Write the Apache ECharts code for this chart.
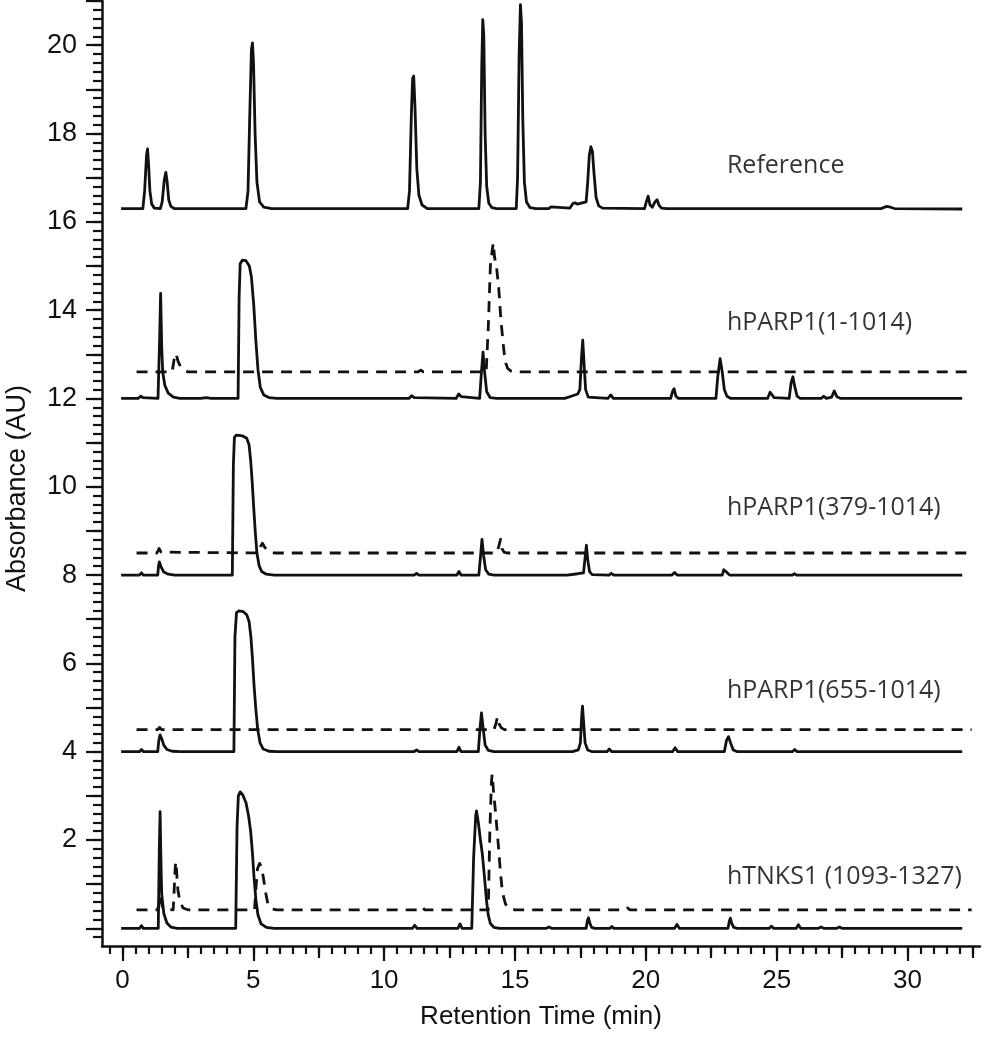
<!DOCTYPE html>
<html>
<head>
<meta charset="utf-8">
<script src="https://cdn.jsdelivr.net/npm/echarts@6/dist/echarts.min.js"></script>
<style>
html,body{margin:0;padding:0;background:#fff;}
#chart{width:999px;height:1050px;}
</style>
</head>
<body>
<div id="chart"></div>
<script>
// ---- tick labels ----
const xTickLabels = [0, 5, 10, 15, 20, 25, 30];
const yTickLabels = [2, 4, 6, 8, 10, 12, 14, 16, 18, 20];

// ---- trace names ----
const traceNames = ['Reference', 'hPARP1(1-1014)', 'hPARP1(379-1014)', 'hPARP1(655-1014)', 'hTNKS1 (1093-1327)'];

// ---- series values: [retention time (min), absorbance (AU, stacked offset)] ----
const reference = [[-0.05,16.3],[0.78,16.3],[0.85,16.7],[0.92,17.5],[0.96,17.65],[1.0,17.3],[1.05,16.7],[1.12,16.4],[1.22,16.31],[1.45,16.3],[1.52,16.45],[1.6,16.95],[1.66,17.12],[1.71,16.9],[1.77,16.5],[1.85,16.35],[1.98,16.3],
[4.72,16.3],[4.8,16.7],[4.87,18.5],[4.93,19.9],[4.97,20.05],[5.01,19.6],[5.07,18.0],[5.14,16.9],[5.24,16.45],[5.4,16.33],[5.7,16.3],
[10.9,16.3],[10.97,16.7],[11.04,18.4],[11.09,19.25],[11.13,19.3],[11.18,18.6],[11.25,17.2],[11.33,16.6],[11.45,16.38],[11.65,16.3],
[13.62,16.3],[13.68,16.9],[13.73,19.5],[13.77,20.58],[13.81,20.2],[13.86,18.0],[13.92,16.8],[14.0,16.42],[14.12,16.32],[14.3,16.3],
[15.05,16.3],[15.1,17.0],[15.16,19.8],[15.21,20.92],[15.25,20.5],[15.3,18.3],[15.36,16.9],[15.44,16.45],[15.58,16.32],[15.8,16.3],
[16.3,16.3],[16.38,16.34],[16.45,16.3],[17.1,16.31],[17.22,16.42],[17.3,16.43],[17.38,16.4],[17.72,16.45],[17.78,16.9],[17.84,17.5],[17.9,17.7],[17.96,17.6],[18.02,17.1],[18.1,16.55],[18.2,16.36],[18.35,16.31],
[19.95,16.3],[20.02,16.45],[20.09,16.58],[20.16,16.38],[20.25,16.33],[20.35,16.45],[20.43,16.5],[20.5,16.38],[20.6,16.31],[20.8,16.3],
[29.0,16.3],[29.2,16.35],[29.35,16.33],[29.5,16.3],[32.09,16.29]];

const parp1Full = [[-0.05,12.0],[0.6,12.0],[0.7,12.05],[0.78,12.02],[1.36,12.0],[1.42,13.3],[1.46,14.38],[1.5,13.2],[1.54,12.6],[1.62,12.3],[1.75,12.12],[1.95,12.03],[2.2,12.0],[3.0,12.0],[3.2,12.02],[3.4,12.0],
[4.42,12.0],[4.46,14.3],[4.5,15.05],[4.58,15.13],[4.72,15.12],[4.85,15.0],[4.93,14.75],[5.02,14.1],[5.1,13.3],[5.18,12.65],[5.27,12.25],[5.4,12.08],[5.6,12.02],[5.9,12.0],
[10.95,12.0],[11.05,12.06],[11.15,12.02],[12.75,12.0],[12.85,12.1],[12.95,12.04],[13.65,12.0],[13.72,12.6],[13.78,13.05],[13.84,12.6],[13.92,12.15],[14.05,12.02],[14.3,12.0],
[16.9,12.0],[17.15,12.05],[17.4,12.1],[17.48,12.2],[17.54,12.9],[17.59,13.32],[17.64,12.8],[17.7,12.2],[17.8,12.03],[18.55,12.0],[18.66,12.08],[18.76,12.0],
[20.95,12.0],[21.03,12.17],[21.08,12.22],[21.15,12.05],[21.25,12.0],[22.68,12.0],[22.75,12.5],[22.84,12.9],[22.92,12.6],[23.0,12.2],[23.1,12.05],[23.25,12.0],
[24.65,12.0],[24.75,12.14],[24.82,12.16],[24.9,12.02],[25.48,12.0],[25.55,12.35],[25.62,12.49],[25.68,12.3],[25.78,12.05],[25.9,12.0],
[26.7,12.0],[26.8,12.05],[26.9,12.0],[27.1,12.03],[27.2,12.17],[27.3,12.04],[27.45,12.0],[32.09,12.0]];

const parp1FullDashed = [[0.54,12.6],[1.9,12.6],[1.98,12.9],[2.05,13.02],[2.12,12.85],[2.22,12.72],[2.35,12.65],[2.5,12.6],[11.3,12.6],[11.4,12.64],[11.5,12.6],
[13.9,12.6],[13.98,13.6],[14.06,15.0],[14.12,15.3],[14.17,15.52],[14.22,15.2],[14.3,14.95],[14.38,14.5],[14.46,13.8],[14.54,13.3],[14.62,12.85],[14.72,12.68],[14.85,12.62],[15.1,12.6],
[19.2,12.6],[19.3,12.64],[19.4,12.6],[32.45,12.6]];

const parp1_379 = [[-0.05,8.0],[0.65,8.0],[0.73,8.05],[0.8,8.0],[1.35,8.0],[1.38,8.2],[1.41,8.3],[1.48,8.18],[1.58,8.07],[1.75,8.02],[2.0,8.0],
[4.2,8.0],[4.24,10.5],[4.28,11.12],[4.35,11.17],[4.6,11.15],[4.75,11.1],[4.84,10.95],[4.9,10.6],[4.96,10.1],[5.02,9.5],[5.08,8.95],[5.14,8.5],[5.22,8.22],[5.32,8.08],[5.5,8.02],[5.8,8.0],
[11.15,8.0],[11.24,8.04],[11.33,8.0],[12.78,8.0],[12.86,8.08],[12.94,8.0],[13.62,8.0],[13.68,8.4],[13.74,8.81],[13.8,8.45],[13.88,8.12],[14.0,8.02],[14.2,8.0],
[17.0,8.0],[17.4,8.03],[17.62,8.05],[17.68,8.4],[17.73,8.68],[17.78,8.35],[17.85,8.08],[17.95,8.01],[18.6,8.0],[18.68,8.04],[18.78,8.0],
[21.0,8.0],[21.1,8.06],[21.2,8.0],[22.92,8.0],[22.98,8.12],[23.03,8.16],[23.1,8.06],[23.2,8.0],[25.6,8.0],[25.68,8.03],[25.76,8.0],[32.09,8.0]];

const parp1_379Dashed = [[0.54,8.5],[1.32,8.5],[1.4,8.6],[1.48,8.52],[5.2,8.5],[5.28,8.65],[5.35,8.72],[5.45,8.62],[5.6,8.53],[5.8,8.5],[6.65,8.5],[6.72,8.53],[6.8,8.5],
[14.3,8.5],[14.38,8.65],[14.45,8.81],[14.5,8.6],[14.58,8.52],[14.7,8.5],[32.45,8.5]];

const parp1_655 = [[-0.05,4.0],[0.65,4.0],[0.73,4.05],[0.8,4.0],[1.35,4.0],[1.39,4.25],[1.44,4.38],[1.5,4.3],[1.58,4.15],[1.7,4.05],[1.9,4.01],[2.2,4.0],
[4.26,4.0],[4.3,6.6],[4.36,7.15],[4.45,7.19],[4.62,7.17],[4.75,7.1],[4.84,6.95],[4.91,6.6],[4.97,6.1],[5.03,5.5],[5.1,4.95],[5.17,4.5],[5.26,4.2],[5.38,4.06],[5.6,4.01],[5.9,4.0],
[11.15,4.0],[11.24,4.04],[11.33,4.0],[12.78,4.0],[12.86,4.1],[12.94,4.0],[13.6,4.0],[13.66,4.5],[13.72,4.88],[13.78,4.55],[13.86,4.15],[13.98,4.03],[14.2,4.0],
[17.2,4.0],[17.42,4.04],[17.5,4.2],[17.55,4.8],[17.58,5.03],[17.62,4.7],[17.68,4.2],[17.78,4.04],[17.95,4.0],[18.52,4.0],[18.6,4.06],[18.7,4.0],
[21.02,4.0],[21.12,4.09],[21.22,4.0],[23.0,4.0],[23.08,4.25],[23.16,4.34],[23.24,4.2],[23.34,4.04],[23.5,4.0],[24.78,4.0],[24.85,4.03],[24.92,4.0],[25.6,4.0],[25.69,4.05],[25.78,4.0],[32.09,4.0]];

const parp1_655Dashed = [[0.54,4.5],[1.35,4.5],[1.42,4.55],[1.5,4.5],[6.7,4.5],[6.78,4.53],[6.86,4.5],
[14.2,4.5],[14.28,4.65],[14.33,4.79],[14.4,4.62],[14.48,4.54],[14.6,4.5],[32.45,4.5]];

const tnks1 = [[-0.05,0.0],[0.65,0.0],[0.73,0.06],[0.8,0.0],[1.37,0.0],[1.41,1.8],[1.44,2.64],[1.47,1.6],[1.5,0.79],[1.58,0.34],[1.7,0.12],[1.85,0.03],[2.1,0.0],
[4.33,0.0],[4.38,2.3],[4.43,3.0],[4.5,3.09],[4.6,3.02],[4.72,2.85],[4.82,2.55],[4.9,2.2],[4.97,1.7],[5.03,1.15],[5.1,0.65],[5.18,0.3],[5.3,0.1],[5.5,0.02],[5.8,0.0],
[11.08,0.0],[11.17,0.07],[11.26,0.0],[12.82,0.0],[12.9,0.1],[12.98,0.0],[13.35,0.0],[13.42,1.6],[13.5,2.55],[13.53,2.66],[13.6,2.4],[13.68,2.0],[13.75,1.7],[13.83,1.2],[13.91,0.64],[13.98,0.3],[14.06,0.11],[14.2,0.02],[14.4,0.0],
[16.2,0.0],[16.3,0.03],[16.4,0.0],[17.72,0.0],[17.77,0.18],[17.81,0.24],[17.86,0.12],[17.93,0.02],[18.05,0.0],[18.62,0.0],[18.7,0.04],[18.78,0.0],
[21.1,0.0],[21.19,0.09],[21.28,0.0],[23.14,0.0],[23.2,0.18],[23.23,0.23],[23.28,0.12],[23.36,0.02],[23.5,0.0],[24.72,0.0],[24.8,0.05],[24.88,0.0],[25.75,0.0],[25.83,0.08],[25.92,0.0],
[26.6,0.0],[26.7,0.03],[26.8,0.0],[27.3,0.0],[27.4,0.03],[27.5,0.0],[32.09,0.0]];

const tnks1Dashed = [[0.54,0.42],[1.35,0.42],[1.4,0.6],[1.44,0.75],[1.52,0.5],[1.6,0.43],[1.94,0.42],[1.98,0.9],[2.02,1.4],[2.05,1.51],[2.08,1.2],[2.12,0.87],[2.2,0.6],[2.32,0.46],[2.5,0.42],
[5.05,0.42],[5.1,0.9],[5.16,1.35],[5.24,1.47],[5.32,1.38],[5.4,1.1],[5.48,0.79],[5.56,0.55],[5.7,0.44],[5.9,0.42],[11.35,0.42],[11.45,0.48],[11.55,0.42],
[13.98,0.42],[14.04,2.2],[14.1,3.3],[14.13,3.49],[14.18,3.1],[14.25,2.68],[14.32,2.2],[14.38,1.77],[14.44,1.3],[14.5,0.94],[14.57,0.7],[14.64,0.55],[14.78,0.45],[15.0,0.42],
[19.2,0.42],[19.3,0.46],[19.4,0.42],[32.45,0.42]];

// ---- axis ranges ----
const X_MIN = -0.78, X_MAX = 32.77;
const Y_MIN = -0.4, Y_MAX = 21.0;

function range(a, b, step) { const out = []; for (let v = a; v <= b + 1e-9; v += step) out.push(+v.toFixed(3)); return out; }
const xMajorTicks = xTickLabels.slice();
const xMidTicks = range(2.5, 32.5, 5);
const xMinorTicks = range(-0.5, 32.5, 0.5);
const yMajorTicks = range(0, 21, 1);
const yMinorTicks = range(-0.2, 21, 0.2);

const black = '#111';
const fontAxis = 'Liberation Sans, Arial, sans-serif';

function xAxisBase(ticks, len, withLabels, showLine) {
  return {
    type: 'value', min: X_MIN, max: X_MAX, position: 'bottom',
    axisLine: { show: showLine, onZero: false, lineStyle: { color: black, width: 2.5 } },
    axisTick: { show: true, inside: false, length: len, customValues: ticks, lineStyle: { color: black, width: 2.2 } },
    axisLabel: withLabels ? { show: true, customValues: xTickLabels, color: black, fontSize: 26, fontFamily: fontAxis, margin: 22 } : { show: false },
    splitLine: { show: false }
  };
}
function yAxisBase(ticks, len, withLabels, showLine) {
  return {
    type: 'value', min: Y_MIN, max: Y_MAX, position: 'left',
    axisLine: { show: showLine, onZero: false, lineStyle: { color: black, width: 2.5 } },
    axisTick: { show: true, inside: false, length: len, customValues: ticks, lineStyle: { color: black, width: 2.2 } },
    axisLabel: withLabels ? { show: true, customValues: yTickLabels, color: black, fontSize: 27, fontFamily: fontAxis, margin: 25 } : { show: false },
    splitLine: { show: false }
  };
}

const xAxes = [xAxisBase(xMajorTicks, 15, true, true), xAxisBase(xMidTicks, 12, false, false), xAxisBase(xMinorTicks, 8, false, false)];
xAxes[0].name = 'Retention Time (min)';
xAxes[0].nameLocation = 'middle';
xAxes[0].nameGap = 58;
xAxes[0].nameTextStyle = { color: black, fontSize: 26, fontFamily: fontAxis };

const yAxes = [yAxisBase(yMajorTicks, 16, true, true), yAxisBase(yMinorTicks, 9, false, false)];
yAxes[0].name = 'Absorbance (AU)';
yAxes[0].nameLocation = 'middle';
yAxes[0].nameGap = 71;
yAxes[0].nameRotate = 90;
yAxes[0].nameTextStyle = { color: black, fontSize: 27, fontFamily: fontAxis, padding: [0, 30, 0, 0] };

function trace(name, data, dashed) {
  return {
    name: name, type: 'line', data: data, xAxisIndex: 0, yAxisIndex: 0,
    showSymbol: false, symbol: 'none', smooth: false, animation: false,
    lineStyle: { color: black, width: 2.8, type: dashed ? [11, 8] : 'solid', cap: 'butt', join: 'round' },
    z: dashed ? 3 : 2
  };
}

const labelAnchorX = 23.1;
const labelAnchorsY = [17.27, 13.70, 9.52, 5.38, 1.17];

const option = {
  backgroundColor: '#fff',
  animation: false,
  grid: { left: 102, right: 19, top: 1, bottom: 104, containLabel: false, outerBoundsMode: 'none' },
  xAxis: xAxes,
  yAxis: yAxes,
  series: [
    trace(traceNames[0], reference, false),
    trace(traceNames[1], parp1Full, false),
    trace(traceNames[1] + ' (dashed)', parp1FullDashed, true),
    trace(traceNames[2], parp1_379, false),
    trace(traceNames[2] + ' (dashed)', parp1_379Dashed, true),
    trace(traceNames[3], parp1_655, false),
    trace(traceNames[3] + ' (dashed)', parp1_655Dashed, true),
    trace(traceNames[4], tnks1, false),
    trace(traceNames[4] + ' (dashed)', tnks1Dashed, true),
    {
      type: 'scatter', symbolSize: 0, silent: true, animation: false,
      data: traceNames.map((n, i) => ({ name: n, value: [labelAnchorX, labelAnchorsY[i]] })),
      label: { show: true, position: 'right', distance: 0, formatter: p => p.name,
        color: '#000', fontSize: 25, fontFamily: 'Open Sans, Noto Sans, sans-serif' }
    }
  ]
};

const chart = echarts.init(document.getElementById('chart'), null, { renderer: 'canvas' });
chart.setOption(option);
</script>
</body>
</html>
